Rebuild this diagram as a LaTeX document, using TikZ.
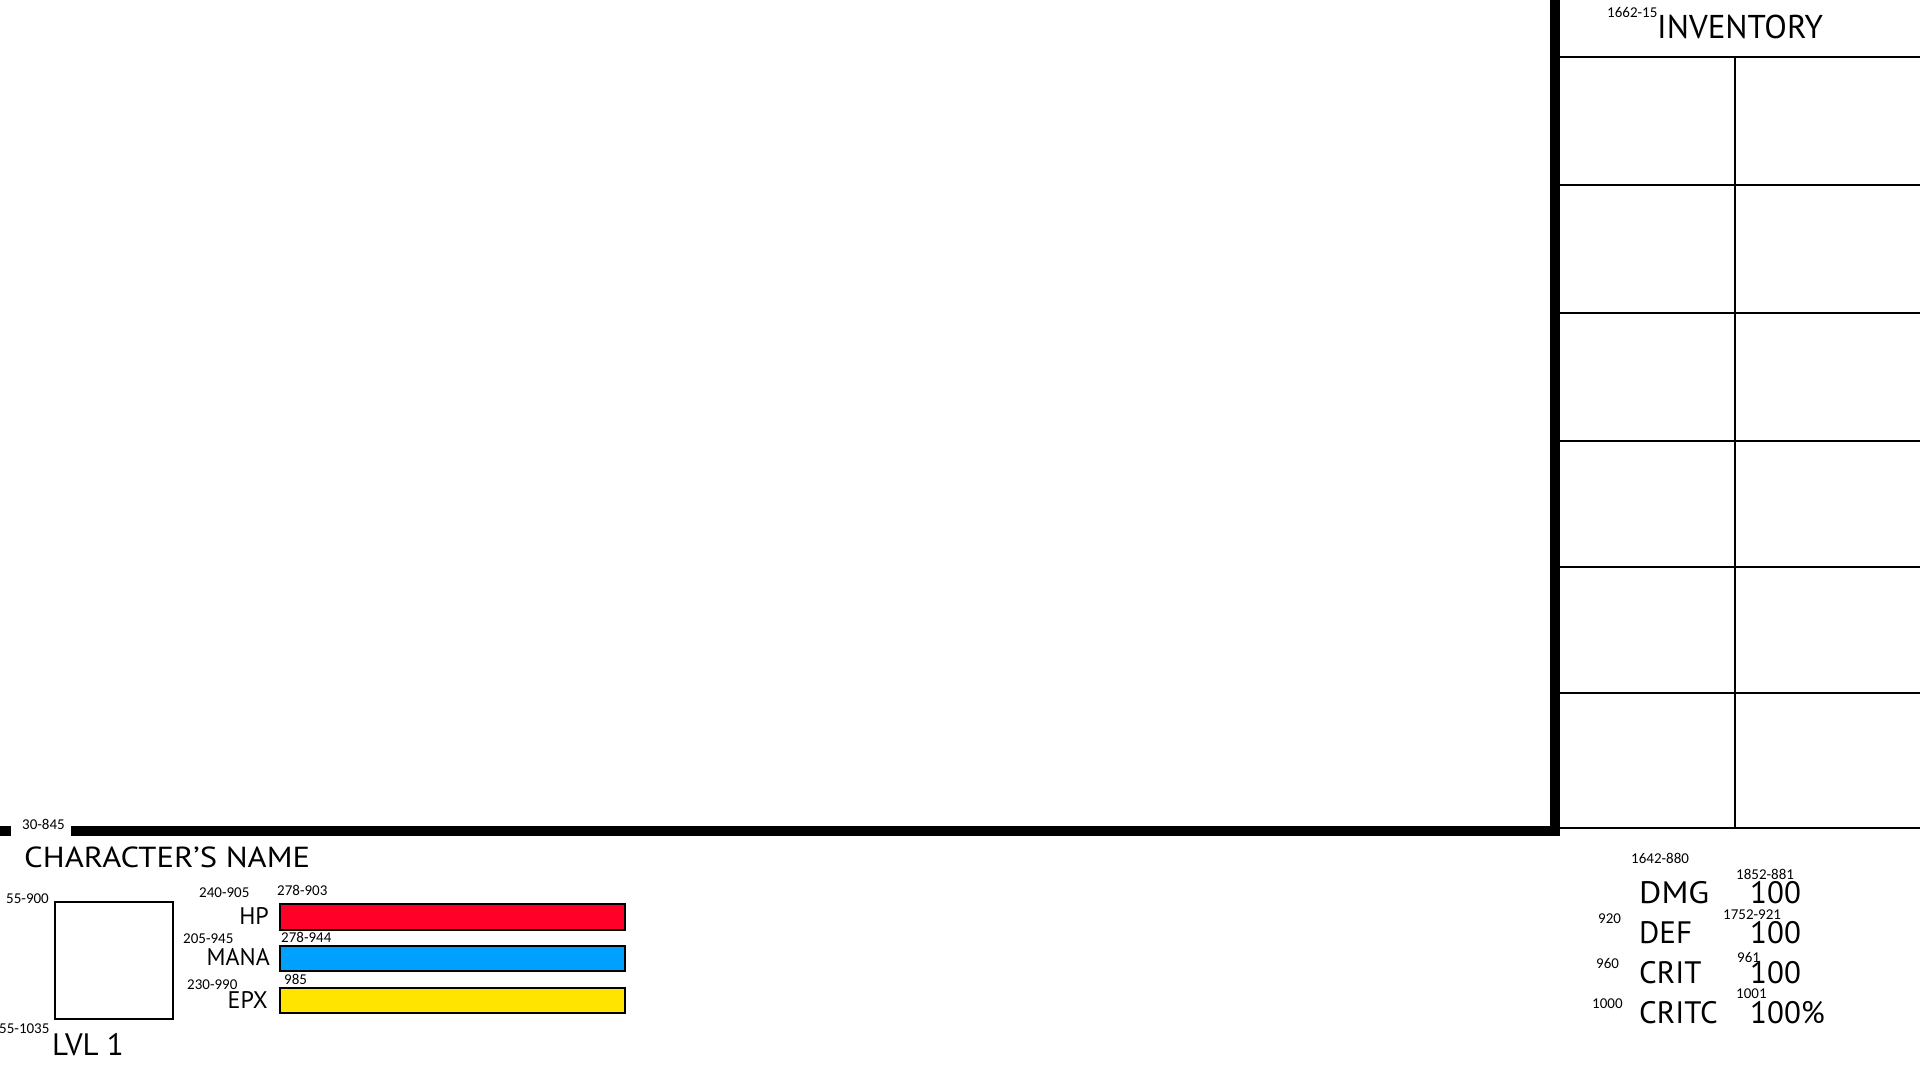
\documentclass[tikz,border=0pt]{standalone}
\usepackage{fontspec}
\setmainfont{PT Sans}
\newfontfamily\numfont{Carlito}
\newfontfamily\widefont[FakeStretch=1.125]{PT Sans}
\newfontfamily\dmgfont[FakeStretch=1.1]{PT Sans}
\definecolor{hpred}{RGB}{255,0,40}
\definecolor{manablue}{RGB}{0,160,255}
\definecolor{epxyellow}{RGB}{255,228,0}
\begin{document}
\begin{tikzpicture}[x=1pt,y=-1pt,
  num/.style={inner sep=0pt,anchor=base west,font=\numfont\fontsize{15}{15}\selectfont},
  bigtxt/.style={inner sep=0pt,anchor=base west,font=\fontsize{31}{31}\selectfont},
  midtxt/.style={inner sep=0pt,anchor=base east,font=\fontsize{24}{24}\selectfont},
  thickbar/.style={line width=10pt},
  gridline/.style={line width=1.3pt},
  barbox/.style={draw=black,line width=2pt,inner sep=0pt,anchor=north west},
]
\useasboundingbox (0,0) rectangle (1920,1080);
% frame bars
\coordinate (vtop) at (1555,0);
\coordinate (corner) at (1555,831);
\coordinate (hleftA) at (0,831);
\coordinate (hleftB) at (11,831);
\coordinate (hrightA) at (71,831);
\draw[thickbar] (vtop) -- ([yshift=5pt]corner);
\draw[thickbar] (hleftA) -- (hleftB);
\draw[thickbar] (hrightA) -- ([xshift=5pt]corner);
% inventory grid
\foreach \yy/\nm in {57/r0,185/r1,313/r2,441/r3,567/r4,693/r5,828/r6}{
  \coordinate (\nm a) at (1560,\yy);
  \coordinate (\nm b) at (1920,\yy);
  \draw[gridline] (\nm a) -- (\nm b);
}
\coordinate (vmidtop) at (1735,57);
\coordinate (vmidbot) at (1735,828);
\draw[gridline] (vmidtop) -- (vmidbot);
% inventory header
\node[num] (lblinv) at (1607,17) {1662-15};
\node[bigtxt,font=\fontsize{33}{33}\selectfont] (inv) at (1657,38) {INVENTORY};
% bottom left
\node[num] (lbl845) at (22,829) {30-845};
\node[bigtxt,font=\widefont\fontsize{29}{29}\selectfont] (cname) at (24,867) {CHARACTER’S NAME};
\node[num] (lbl900) at (6,903) {55-900};
\node[draw,line width=2pt,inner sep=0pt,minimum width=118pt,minimum height=117pt,anchor=north west] (portrait) at (54,901) {};
\node[num] (lbl1035) at (-1,1033) {55-1035};
\node[bigtxt] (lvl) at (52,1055) {LVL 1};
% bars
\node[num] (lbl905) at (199,897) {240-905};
\node[num] (lbl903) at (277,895) {278-903};
\node[midtxt] (hp) at (269,924) {HP};
\node[barbox,fill=hpred,minimum width=345pt,minimum height=26pt] (hpbar) at (279,903) {};
\node[num] (lbl945) at (183,943) {205-945};
\node[num] (lbl944) at (281,942) {278-944};
\node[midtxt] (mana) at (270,965) {MANA};
\node[barbox,fill=manablue,minimum width=345pt,minimum height=25pt] (manabar) at (279,945) {};
\node[num] (lbl990) at (187,989) {230-990};
\node[num] (lbl985) at (284,984) {985};
\node[midtxt] (epx) at (268,1008) {EPX};
\node[barbox,fill=epxyellow,minimum width=345pt,minimum height=25pt] (epxbar) at (279,987) {};
% stats
\node[num] (lbl880) at (1631,863) {1642-880};
\node[bigtxt,font=\dmgfont\fontsize{31}{31}\selectfont] (dmg) at (1639,903) {DMG};
\node[num] (lbl881) at (1736,879) {1852-881};
\node[bigtxt] (dmgv) at (1750,903) {100};
\node[num] (lbl920) at (1598,923) {920};
\node[bigtxt] (def) at (1639,943) {DEF};
\node[num] (lbl921) at (1723,919) {1752-921};
\node[bigtxt] (defv) at (1750,943) {100};
\node[num] (lbl960) at (1596,968) {960};
\node[bigtxt] (crit) at (1639,983) {CRIT};
\node[num] (lbl961) at (1737,962) {961};
\node[bigtxt] (critv) at (1750,983) {100};
\node[num] (lbl1000) at (1592,1008) {1000};
\node[bigtxt] (critc) at (1639,1023) {CRITC};
\node[num] (lbl1001) at (1736,998) {1001};
\node[bigtxt] (critcv) at (1750,1023) {100\%};
\end{tikzpicture}
\end{document}
